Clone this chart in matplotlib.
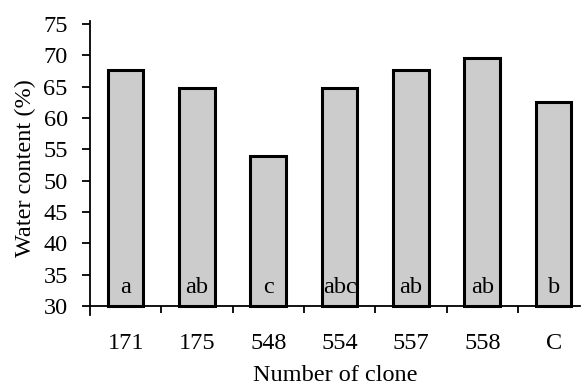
import matplotlib.pyplot as plt
import numpy as np

clones = ["171", "175", "548", "554", "557", "558", "C"]
water = [67.7, 64.8, 54.0, 64.7, 67.6, 69.6, 62.6]
letters = ["a", "ab", "c", "abc", "ab", "ab", "b"]

plt.rcParams['font.family'] = ['Liberation Serif', 'DejaVu Serif']

fig = plt.figure(figsize=(5.82, 3.87), dpi=100)
ax = fig.add_axes([0.1546, 0.186, 0.842, 0.7605])

x = np.arange(len(clones))
base = 30
ax.bar(x, np.array(water) - base, bottom=base, width=0.5,
       color="#cccccc", edgecolor="black", linewidth=2.2, zorder=3)

# significance letters sit near the bottom of each bar
for i, lab in enumerate(letters):
    ax.text(x[i], 31.2, lab, ha="center", va="bottom", fontsize=17.5, zorder=4)

ax.set_ylim(28.56, 75.5)
ax.set_xlim(-0.5, 6.37)
ax.spines['bottom'].set_position(('data', base))
ax.spines['top'].set_visible(False)
ax.spines['right'].set_visible(False)
for s in ['left', 'bottom']:
    ax.spines[s].set_linewidth(1.3)

ax.set_yticks(np.arange(30, 76, 5))
ax.tick_params(axis='y', direction='out', length=6, width=1.3, pad=10, labelsize=17.5)

ax.set_xticks(x)
ax.set_xticklabels(clones)
ax.set_xticks(x[:-1] + 0.5, minor=True)
ax.tick_params(axis='x', which='major', length=0, pad=19.5, labelsize=17.5)
ax.tick_params(axis='x', which='minor', direction='out', length=5, width=1.3)

ax.set_xlabel("Number of clone", fontsize=17.5, labelpad=8)
ax.set_ylabel("Water content (%)", fontsize=17.5, labelpad=5)

fig.savefig("out.png", dpi=100)
